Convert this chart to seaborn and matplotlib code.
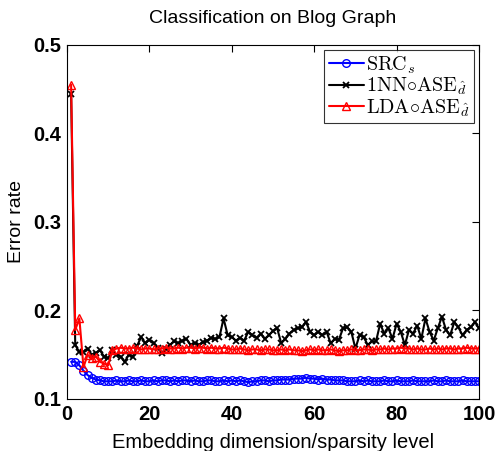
import numpy as np
import pandas as pd
import matplotlib
matplotlib.use("Agg")
import matplotlib.pyplot as plt
import seaborn as sns

x = list(range(1, 101))

src = [0.142,0.142,0.138,0.132,0.127,0.124,0.122,0.121,0.120,0.120,
       0.120,0.121,0.120,0.120,0.121,0.120,0.120,0.121,0.120,0.120,
       0.121,0.120,0.121,0.121,0.120,0.121,0.120,0.121,0.121,0.120,
       0.121,0.120,0.120,0.121,0.121,0.120,0.120,0.121,0.120,0.121,
       0.120,0.121,0.120,0.119,0.120,0.120,0.121,0.121,0.120,0.121,
       0.121,0.122,0.122,0.122,0.123,0.123,0.123,0.124,0.123,0.123,
       0.122,0.123,0.122,0.122,0.121,0.121,0.121,0.120,0.120,0.120,
       0.121,0.120,0.121,0.120,0.120,0.120,0.121,0.120,0.120,0.121,
       0.120,0.120,0.120,0.121,0.120,0.120,0.120,0.120,0.121,0.120,
       0.120,0.121,0.120,0.120,0.120,0.121,0.120,0.120,0.120,0.120]

nn = [0.445,0.161,0.153,0.153,0.157,0.150,0.152,0.155,0.148,0.146,
      0.155,0.150,0.148,0.142,0.150,0.148,0.160,0.170,0.163,0.167,
      0.163,0.158,0.152,0.157,0.161,0.165,0.163,0.166,0.168,0.161,
      0.163,0.161,0.164,0.166,0.169,0.168,0.170,0.191,0.172,0.170,
      0.166,0.169,0.166,0.176,0.172,0.169,0.174,0.168,0.172,0.177,
      0.180,0.163,0.168,0.174,0.178,0.180,0.181,0.187,0.176,0.172,
      0.176,0.172,0.176,0.163,0.168,0.167,0.180,0.181,0.176,0.157,
      0.172,0.170,0.161,0.165,0.165,0.185,0.174,0.180,0.168,0.185,
      0.176,0.161,0.178,0.174,0.183,0.168,0.191,0.176,0.166,0.180,
      0.193,0.178,0.172,0.187,0.181,0.172,0.178,0.181,0.187,0.180]

lda = [0.455,0.178,0.191,0.136,0.150,0.146,0.148,0.142,0.140,0.138,
       0.155,0.157,0.158,0.157,0.157,0.158,0.157,0.156,0.157,0.157,
       0.156,0.157,0.157,0.158,0.157,0.157,0.158,0.157,0.158,0.158,
       0.157,0.158,0.158,0.157,0.158,0.157,0.157,0.158,0.157,0.156,
       0.156,0.157,0.156,0.155,0.156,0.156,0.155,0.156,0.156,0.155,
       0.155,0.156,0.155,0.156,0.155,0.155,0.154,0.155,0.156,0.155,
       0.156,0.155,0.155,0.156,0.155,0.154,0.155,0.155,0.156,0.155,
       0.155,0.156,0.156,0.155,0.156,0.156,0.157,0.156,0.157,0.157,
       0.158,0.157,0.157,0.156,0.157,0.156,0.156,0.157,0.156,0.157,
       0.156,0.157,0.157,0.156,0.157,0.157,0.158,0.157,0.157,0.157]

labels = [r"$\mathrm{SRC}_s$",
          r"$\mathrm{1NN}{\circ}\mathrm{ASE}_{\hat{d}}$",
          r"$\mathrm{LDA}{\circ}\mathrm{ASE}_{\hat{d}}$"]

sns.set_style("white")
plt.rcParams["font.family"] = ["Liberation Sans", "DejaVu Sans"]
plt.rcParams["mathtext.fontset"] = "cm"
plt.rcParams["text.color"] = "black"
plt.rcParams["axes.labelcolor"] = "black"

fig = plt.figure(figsize=(4.97, 4.51), dpi=100)
ax = fig.add_axes([0.1348, 0.1153, 0.829, 0.785])

styles = [
    (src, "#0000ff", "o", dict(markerfacecolor="none", markeredgecolor="#0000ff", markersize=5.5, markeredgewidth=1.0)),
    (nn, "#000000", "x", dict(markeredgecolor="#000000", markersize=5, markeredgewidth=1.3)),
    (lda, "#ff0000", "^", dict(markerfacecolor="none", markeredgecolor="#ff0000", markersize=6, markeredgewidth=1.0)),
]
for (vals, col, mk, kw), lab in zip(styles, labels):
    df = pd.DataFrame({"x": x, "y": vals})
    sns.lineplot(data=df, x="x", y="y", ax=ax, color=col, marker=mk,
                 linewidth=1.5, label=lab, **kw)

ax.set_xlim(0, 100)
ax.set_ylim(0.1, 0.5)
ax.set_xticks([0, 20, 40, 60, 80, 100])
ax.set_yticks([0.1, 0.2, 0.3, 0.4, 0.5])
ax.set_xticklabels(["0", "20", "40", "60", "80", "100"])
ax.set_yticklabels(["0.1", "0.2", "0.3", "0.4", "0.5"])
ax.tick_params(direction="in", length=5, width=0.8, top=True, right=True,
               labelsize=14.5, colors="black", pad=4)
for t in ax.get_xticklabels() + ax.get_yticklabels():
    t.set_fontweight("bold")
for s in ax.spines.values():
    s.set_color("black")
    s.set_linewidth(0.8)

ax.set_xlabel("Embedding dimension/sparsity level", fontsize=14.5, labelpad=7, color="black")
ax.set_ylabel("Error rate", fontsize=14, labelpad=6, color="black")
ax.set_title("Classification on Blog Graph", fontsize=14, pad=16, color="black")

leg = ax.legend(loc="upper right", fontsize=14.5, frameon=True, fancybox=False,
                handlelength=1.75, handletextpad=0.12, borderpad=0.22,
                labelspacing=0.0, borderaxespad=0.25)
leg.get_frame().set_edgecolor("black")
leg.get_frame().set_linewidth(0.8)
for t in leg.get_texts():
    t.set_color("black")

fig.savefig("out.png", dpi=100)
